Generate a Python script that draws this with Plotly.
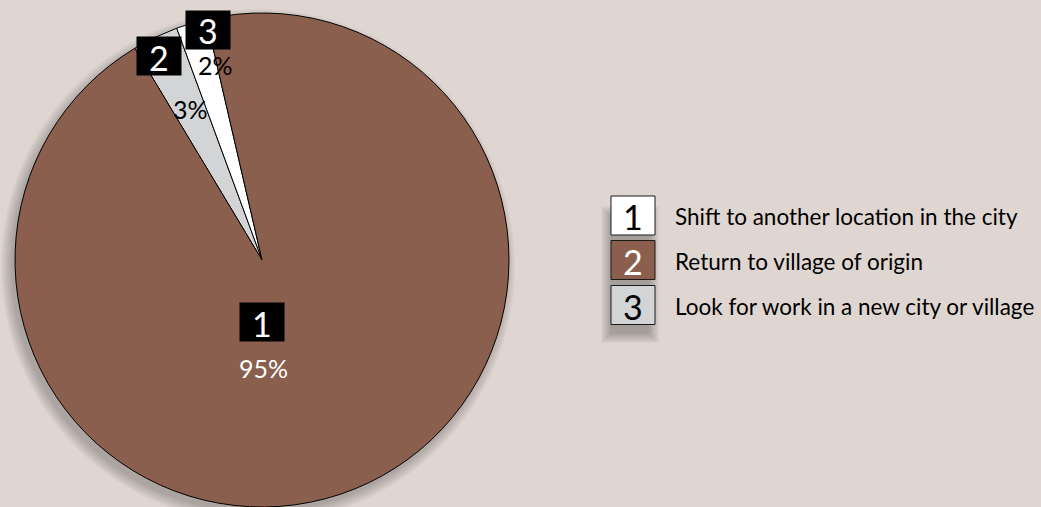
import plotly.graph_objects as go

# ---------------- data ----------------
categories = ["Shift to another location in the city",
              "Return to village of origin",
              "Look for work in a new city or village"]
values = [2, 95, 3]
legend_numbers = ["1", "2", "3"]
slice_numbers = ["3", "1", "2"]          # number shown in black box on each slice
colors = ["#ffffff", "#8a5f4d", "#d3d4d6"]
pie_order = [2, 0, 1]                     # clockwise drawing order of the slices

# ---------------- layout helpers ----------------
W, H = 1041, 507
BG = "#dfd6d1"
FONT = "Lato, sans-serif"
CX, CY, R = 262, 260, 247


def px(x):
    return x / W


def py(y):
    return 1 - y / H


fig = go.Figure()
fig.add_trace(go.Pie(
    labels=[categories[i] for i in pie_order],
    values=[values[i] for i in pie_order],
    marker=dict(colors=[colors[i] for i in pie_order],
                line=dict(color="#000000", width=1)),
    sort=False, direction="clockwise", rotation=-31,
    textinfo="none", hoverinfo="label+percent",
    domain=dict(x=[px(CX - R), px(CX + R)], y=[py(CY + R), py(CY - R)]),
    showlegend=False,
))

shapes = []
annotations = []

# soft drop shadow of the pie
for k in range(8):
    rr = R + 10 - k * 1.5
    sx, sy = CX - 4, CY + 6
    shapes.append(dict(type="circle", xref="paper", yref="paper", layer="below",
                       x0=px(sx - rr), x1=px(sx + rr), y0=py(sy + rr), y1=py(sy - rr),
                       fillcolor="rgba(40,30,25,0.035)", line=dict(width=0)))

# labels on slices (box number + percentage)
total = sum(values)
label_pos = {  # per category index: (box center, percent center, percent colour)
    0: ((208, 30), (215, 65), "#000000"),
    1: ((262, 322), (263, 368), "#ffffff"),
    2: ((159, 56), (190, 109), "#000000"),
}
BW, BH = 45, 39
for i in range(len(values)):
    (bx, by), (tx, ty), tc = label_pos[i]
    shapes.append(dict(type="rect", xref="paper", yref="paper",
                       x0=px(bx - BW / 2), x1=px(bx + BW / 2),
                       y0=py(by + BH / 2), y1=py(by - BH / 2),
                       fillcolor="#000000", line=dict(width=0)))
    annotations.append(dict(text=slice_numbers[i], x=px(bx), y=py(by + 1),
                            xref="paper", yref="paper", showarrow=False,
                            xanchor="center", yanchor="middle",
                            font=dict(family=FONT, size=34, color="#ffffff")))
    annotations.append(dict(text=f"{values[i] / total * 100:.0f}%", x=px(tx), y=py(ty),
                            xref="paper", yref="paper", showarrow=False,
                            xanchor="center", yanchor="middle",
                            font=dict(family=FONT, size=25, color=tc)))

# legend shadow (soft, mostly below the last box)
for k in range(9):
    e = 9 - k * 1.2
    shapes.append(dict(type="rect", xref="paper", yref="paper",
                       x0=px(610 - e), x1=px(650 + e), y0=py(334 + e), y1=py(215 - e),
                       fillcolor="rgba(40,30,25,0.035)", line=dict(width=0)))

# legend boxes + text
row_y = [215.5, 260, 305]
num_colors = ["#000000", "#ffffff", "#000000"]
for i, name in enumerate(categories):
    y = row_y[i]
    shapes.append(dict(type="rect", xref="paper", yref="paper",
                       x0=px(611), x1=px(655), y0=py(y + 19.5), y1=py(y - 19.5),
                       fillcolor=colors[i], line=dict(color="#1a1a1a", width=1)))
    annotations.append(dict(text=legend_numbers[i], x=px(633), y=py(y + 1),
                            xref="paper", yref="paper", showarrow=False,
                            xanchor="center", yanchor="middle",
                            font=dict(family=FONT, size=34, color=num_colors[i])))
    annotations.append(dict(text=name, x=px(673), y=py(y + 1),
                            xref="paper", yref="paper", showarrow=False,
                            xanchor="left", yanchor="middle",
                            font=dict(family=FONT, size=22.5, color="#000000")))

fig.update_layout(
    width=W, height=H,
    margin=dict(l=0, r=0, t=0, b=0),
    paper_bgcolor=BG, plot_bgcolor=BG,
    shapes=shapes, annotations=annotations,
    showlegend=False,
)

fig.write_html("out.html")
